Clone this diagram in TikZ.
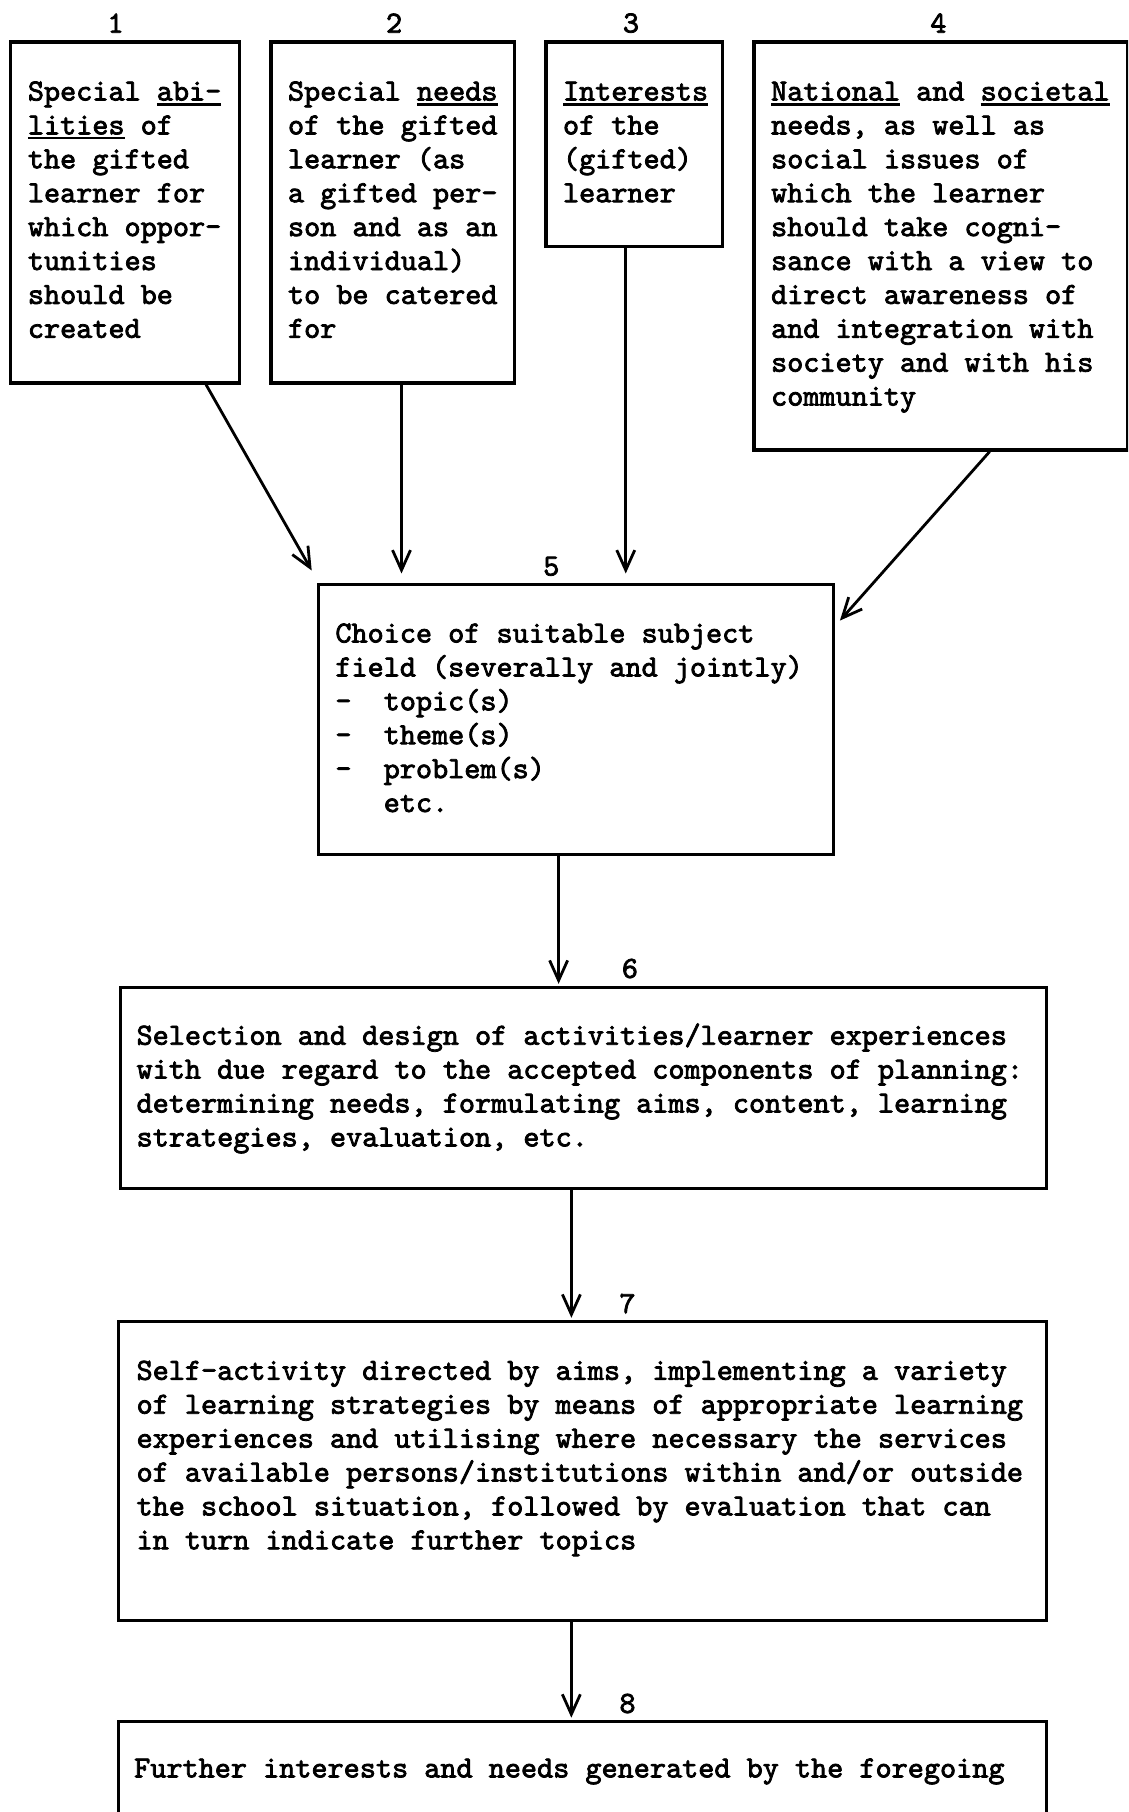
\documentclass[tikz,border=0pt]{standalone}
\usepackage{fontspec}
\usetikzlibrary{arrows.meta,calc}
\newfontfamily\twf{lmmono10-regular}[Extension=.otf, FakeBold=2.5]
\newsavebox\ulbox
\newcommand\ulw[1]{\leavevmode\sbox\ulbox{#1}\rlap{\rule[-5bp]{\wd\ulbox}{2.6bp}}\usebox\ulbox}
\newcommand\tw{\twf\fontsize{30.7bp}{33.9bp}\selectfont\frenchspacing\fontdimen2\font=0.525em\fontdimen3\font=0pt\fontdimen4\font=0pt\fontdimen7\font=0pt\relax}
\newcommand\sps{\spaceskip=0.525em\relax\xspaceskip=0.525em\relax}
\tikzset{
  box/.style={draw, line width=3.2bp, inner sep=0pt, anchor=north west},
  txt/.style={inner sep=0pt, anchor=base west, align=left, font=\tw},
  num/.style={inner sep=0pt, font=\tw},
  arr/.style={line width=2.8bp, -{Straight Barb[length=20bp,width=18bp]}}
}
\begin{document}
\begin{tikzpicture}[x=1bp,y=-1bp]
\useasboundingbox (0,0) rectangle (1128,1812);
\clip (0,0) rectangle (1128,1812);
\fill[white] (0,0) rectangle (1128,1812);
% boxes
\node[box, minimum width=228.9bp, minimum height=341bp] (b1) at (9.2,40.4) {};
\node[box, minimum width=243.8bp, minimum height=341bp] (b2) at (269.3,40.4) {};
\node[box, minimum width=176.9bp, minimum height=204.6bp] (b3) at (544.3,40.4) {};
\node[box, minimum width=373.4bp, minimum height=408bp] (b4) at (752.4,40.4) {};
\node[box, minimum width=515.4bp, minimum height=270.4bp] (b5) at (316.7,582.5) {};
\node[box, minimum width=925.8bp, minimum height=201.1bp] (b6) at (119.0,985.8) {};
\node[box, minimum width=928.1bp, minimum height=299.3bp] (b7) at (116.7,1319.8) {};
\node[box, minimum width=928.1bp, minimum height=150bp] (b8) at (116.7,1719.7) {};
% numbers
\node[num] (n1) at (115.6,23.1) {1};
\node[num] (n2) at (394.1,23.1) {2};
\node[num] (n3) at (631.0,23.1) {3};
\node[num] (n4) at (938.4,23.1) {4};
\node[num] (n5) at (551.3,566.3) {5};
\node[num] (n6) at (629.9,968.5) {6};
\node[num] (n7) at (627.5,1303.6) {7};
\node[num] (n8) at (627.5,1703.5) {8};
% texts
\node[txt, text width=235bp] (t1) at (27.7,100.5) {\sps Special \ulw{abi-}\\\ulw{lities} of\\the gifted\\learner for\\which oppor-\\tunities\\should be\\created};
\node[txt, text width=250bp] (t2) at (287.8,100.5) {\sps Special \ulw{needs}\\of the gifted\\learner (as\\a gifted per-\\son and as an\\individual)\\to be catered\\for};
\node[txt, text width=185bp] (t3) at (562.8,100.5) {\sps\ulw{Interests}\\of the\\(gifted)\\learner};
\node[txt, text width=380bp] (t4) at (770.9,100.5) {\sps\ulw{National} and \ulw{societal}\\needs, as well as\\social issues of\\which the learner\\should take cogni-\\sance with a view to\\direct awareness of\\and integration with\\society and with his\\community};
\node[txt, text width=520bp] (t5) at (335.2,642.5) {\sps Choice of suitable subject\\field (severally and jointly)\\-\ \ topic(s)\\-\ \ theme(s)\\-\ \ problem(s)\\\ \ \ etc.};
\node[txt, text width=960bp] (t6) at (136.4,1044.7) {\sps Selection and design of activities/learner experiences\\with due regard to the accepted components of planning:\\determining needs, formulating aims, content, learning\\strategies, evaluation, etc.};
\node[txt, text width=960bp] (t7) at (136.4,1379.8) {\sps Self-activity directed by aims, implementing a variety\\of learning strategies by means of appropriate learning\\experiences and utilising where necessary the services\\of available persons/institutions within and/or outside\\the school situation, followed by evaluation that can\\in turn indicate further topics};
\node[txt, text width=960bp] (t8) at (134.0,1777.4) {\sps Further interests and needs generated by the foregoing};
% arrows
\draw[arr] ($(b1.south west)!0.848!(b1.south east)$) -- ($(b5.north west)+(-5,-12)$);
\draw[arr] ($(b2.south)+(8.7,0)$) -- ($(b2.south |- b5.north)+(8.7,-9)$);
\draw[arr] ($(b3.south)+(-8.6,0)$) -- ($(b3.south |- b5.north)+(-8.6,-9)$);
\draw[arr] ($(b4.south west)!0.63!(b4.south east)$) -- ($(b5.north east)+(4.6,38.1)$);
\draw[arr] ($(b5.south)+(-17.4,0)$) -- ($(b5.south |- b6.north)+(-17.4,-2)$);
\draw[arr] ($(b6.south)+(-12.1,0)$) -- ($(b6.south |- b7.north)+(-12.1,-2)$);
\draw[arr] ($(b7.south)+(-11,0)$) -- ($(b7.south |- b8.north)+(-11,-2)$);
\end{tikzpicture}
\end{document}
